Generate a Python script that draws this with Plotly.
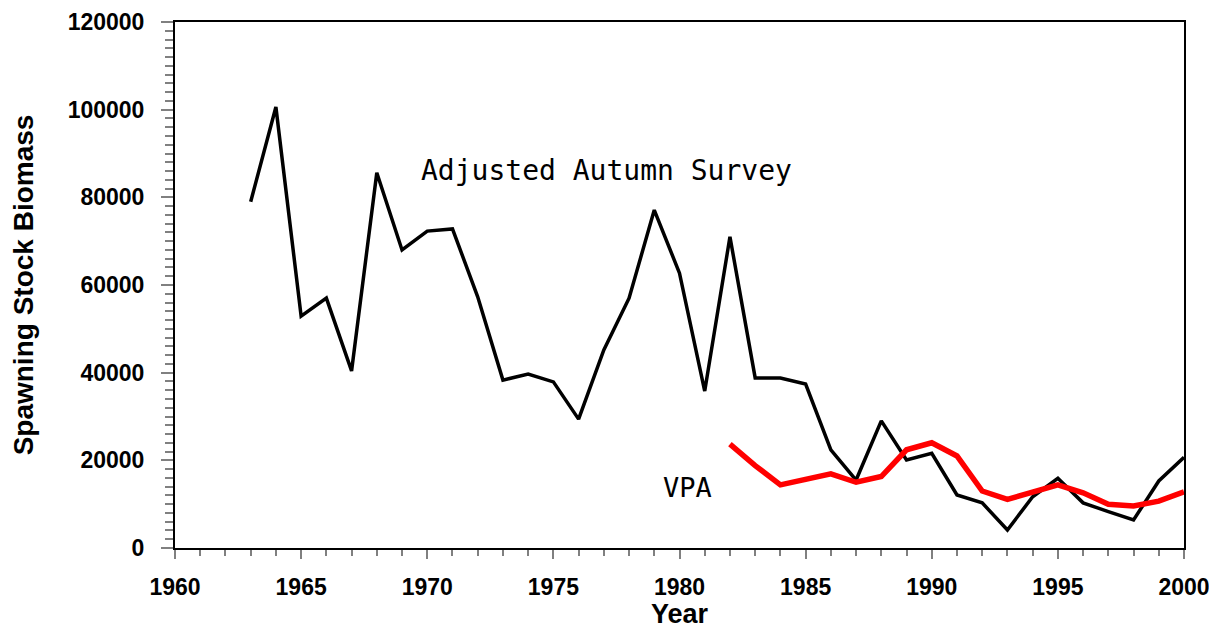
import plotly.graph_objects as go

# Adjusted autumn survey index of spawning stock biomass
survey_years = list(range(1963, 2001))
survey_ssb = [79000, 100600, 52900, 57000, 40400, 85600, 68000, 72300, 72800, 57300,
              38300, 39700, 37900, 29400, 45200, 57000, 77100, 62700, 35800, 71000,
              38800, 38800, 37400, 22400, 15500, 29000, 20100, 21600, 12100, 10300,
              4100, 11700, 15900, 10300, 8300, 6400, 15300, 20700]

# VPA estimate of spawning stock biomass
vpa_years = list(range(1982, 2001))
vpa_ssb = [23700, 18800, 14400, 15700, 16900, 15000, 16300, 22400, 24000, 21000,
           13000, 11100, 12800, 14400, 12600, 10000, 9600, 10700, 12800]

x_ticks = [1960, 1965, 1970, 1975, 1980, 1985, 1990, 1995, 2000]
y_ticks = [0, 20000, 40000, 60000, 80000, 100000, 120000]

fig = go.Figure()
fig.add_trace(go.Scatter(x=survey_years, y=survey_ssb, mode="lines",
                         line=dict(color="black", width=3.5), name="Adjusted Autumn Survey"))
fig.add_trace(go.Scatter(x=vpa_years, y=vpa_ssb, mode="lines",
                         line=dict(color="#ff0000", width=5.5), name="VPA"))

fig.add_annotation(x=1977.1, y=86200, text="Adjusted Autumn Survey", showarrow=False,
                   font=dict(family="DejaVu Sans Mono", size=28, color="black"),
                   xanchor="center", yanchor="middle")
fig.add_annotation(x=1980.3, y=13700, text="VPA", showarrow=False,
                   font=dict(family="DejaVu Sans Mono", size=27, color="black"),
                   xanchor="center", yanchor="middle")

tick_font = dict(family="Liberation Sans, Arial", size=23, color="black", weight="bold")
title_font = dict(family="Liberation Sans, Arial", color="black", weight="bold")
fig.update_xaxes(range=[1960, 2000], tickvals=x_ticks, ticktext=[str(v) for v in x_ticks],
                 showgrid=False, zeroline=False, showline=True, linecolor="black",
                 linewidth=2, mirror=True, ticks="outside", ticklen=9, tickwidth=2,
                 tickcolor="#808080", tickfont=tick_font, ticklabelstandoff=8,
                 ticklabeloverflow="allow", automargin=False,
                 minor=dict(dtick=1, tick0=1960, ticks="outside", ticklen=6,
                            tickwidth=2, tickcolor="#808080", showgrid=False),
                 title=dict(text="Year", font=dict(size=27, **title_font), standoff=2))
fig.update_yaxes(range=[0, 120000], tickvals=y_ticks, ticktext=[str(v) for v in y_ticks],
                 showgrid=False, zeroline=False, showline=True, linecolor="black",
                 linewidth=2, mirror=True, ticks="outside", ticklen=12, tickwidth=2,
                 tickcolor="#808080", tickfont=tick_font, ticklabelstandoff=12,
                 ticklabeloverflow="allow", automargin=False,
                 minor=dict(dtick=2000, tick0=0, ticks="outside", ticklen=8,
                            tickwidth=2, tickcolor="#808080", showgrid=False),
                 title=dict(text="Spawning Stock Biomass", font=dict(size=28, **title_font),
                            standoff=26))
fig.update_layout(width=1209, height=629, plot_bgcolor="white", paper_bgcolor="white",
                  showlegend=False, margin=dict(l=175, r=25, t=22, b=81))

fig.write_html("out.html")
